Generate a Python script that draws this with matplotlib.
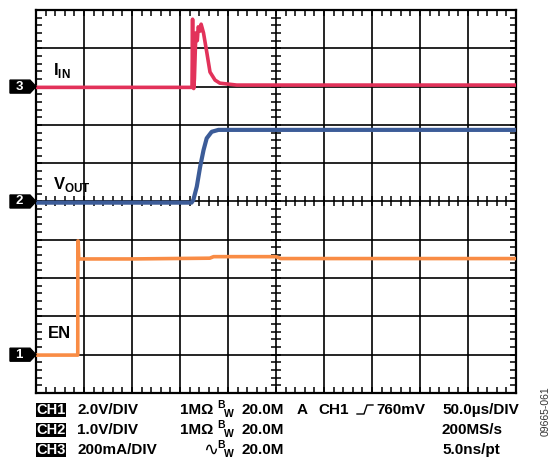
import numpy as np
import matplotlib
matplotlib.use("Agg")
import matplotlib.pyplot as plt
from matplotlib.patches import Polygon
from matplotlib.lines import Line2D

plt.rcParams['font.family'] = ['Liberation Sans', 'DejaVu Sans']
plt.rcParams['mathtext.fontset'] = 'custom'
plt.rcParams['mathtext.rm'] = 'Liberation Sans:bold'
plt.rcParams['mathtext.bf'] = 'Liberation Sans:bold'

W, H = 553, 461

# --- trace data (divisions: x 0..10 time, y 0..10 screen) ---
iin_t = [0, 3.25, 3.262, 3.268, 3.285, 3.30, 3.33, 3.36, 3.38, 3.42, 3.44,
         3.49, 3.56, 3.625, 3.73, 3.83, 4.18, 10]
iin_v = [7.98, 7.98, 9.76, 8.5, 7.95, 8.2, 9.40, 9.2, 9.56, 9.45, 9.63,
         9.40, 8.88, 8.38, 8.17, 8.09, 8.04, 8.04]

vout_t = [0, 3.24, 3.278, 3.35, 3.42, 3.49, 3.556, 3.66, 3.80, 10]
vout_v = [4.97, 4.97, 5.04, 5.39, 5.91, 6.34, 6.65, 6.82, 6.87, 6.87]

en_t = [0, 0.87, 0.872, 0.878, 0.89, 1.96, 3.62, 3.7, 5.0, 5.1, 10]
en_v = [0.99, 0.99, 3.97, 3.97, 3.50, 3.50, 3.52, 3.56, 3.56, 3.51, 3.51]

# ground reference markers (channel, level in divisions)
markers = [("3", 8.0), ("2", 5.0), ("1", 1.0)]

red = '#E2325A'
blue = '#3C5C98'
orange = '#F98C45'

fig = plt.figure(figsize=(W / 100, H / 100), dpi=100)
x0, x1, y0, y1 = 36, 516, 10, 393
ax = fig.add_axes([x0 / W, 1 - y1 / H, (x1 - x0) / W, (y1 - y0) / H])
ax.set_xlim(0, 10)
ax.set_ylim(0, 10)

# grid
for k in range(1, 10):
    ax.axvline(k, color='black', lw=1.2, zorder=1)
    ax.axhline(k, color='black', lw=1.2, zorder=1)
for s in ax.spines.values():
    s.set_linewidth(1.6)

ax.set_xticks(np.arange(0, 10.01, 0.2))
ax.set_yticks(np.arange(0, 10.01, 0.2))
ax.tick_params(which='both', direction='in', length=4, width=1.1,
               top=True, right=True, labelleft=False, labelbottom=False)

# ticks on center lines
minor = np.arange(0.2, 10, 0.2)
ax.plot(minor, np.full_like(minor, 5.0), ls='none', marker='|',
        ms=6.5, mew=1.1, color='black', zorder=1)
ax.plot(np.full_like(minor, 5.0), minor, ls='none', marker='_',
        ms=6.5, mew=1.1, color='black', zorder=1)

# traces
ax.plot(iin_t, iin_v, color=red, lw=2.6, zorder=3, solid_joinstyle='round')
ax.plot(vout_t, vout_v, color=blue, lw=3.0, zorder=3, solid_joinstyle='round')
ax.plot(en_t, en_v, color=orange, lw=2.6, zorder=3, solid_joinstyle='round')

# labels
ax.text(0.36, 8.16, r'$\mathbf{I}_{\mathbf{IN}}$', fontsize=12, color='black',
        ha='left', va='bottom')
ax.text(0.36, 5.2, r'$\mathbf{V}_{\mathbf{OUT}}$', fontsize=12, color='black',
        ha='left', va='bottom')
ax.text(0.25, 1.36, 'EN', fontsize=12, fontweight='bold', ha='left', va='bottom')

# channel ground markers
px, py = 1 / 48, 1 / 38.3
for lab, lvl in markers:
    pts = [(-26 * px, lvl - 6.5 * py), (-6 * px, lvl - 6.5 * py), (0, lvl),
           (-6 * px, lvl + 6.5 * py), (-26 * px, lvl + 6.5 * py)]
    ax.add_patch(Polygon(pts, closed=True, color='black', clip_on=False, zorder=5))
    ax.text(-17 * px, lvl, lab, color='white', fontsize=9.5, fontweight='bold',
            ha='center', va='center', clip_on=False, zorder=6)


def ftext(x, y, s, **kw):
    kw.setdefault('fontsize', 11)
    kw.setdefault('fontweight', 'bold')
    kw.setdefault('va', 'baseline')
    kw.setdefault('ha', 'left')
    return fig.text(x / W, 1 - y / H, s, **kw)


rows = [414, 434, 454]
scales = ["2.0V/DIV", "1.0V/DIV", "200mA/DIV"]
for i, (r, sc) in enumerate(zip(rows, scales)):
    ftext(36, r, "CH%d" % (i + 1), color='white', fontsize=10.5,
          bbox=dict(boxstyle='square,pad=0.02', facecolor='black', edgecolor='none'))
    ftext(77, r, sc)

# coupling / bandwidth column
for r, prefix in zip(rows, ["1M\u03a9", "1M\u03a9", ""]):
    if prefix:
        ftext(180, r, prefix)
    else:
        ftext(203, r + 1, "\u223f", fontsize=13, fontweight='normal')
    ftext(217, r - 6, "B", fontsize=7.5)
    ftext(224, r + 3, "W", fontsize=7.5)
    ftext(241, r, "20.0M")

ftext(297, rows[0], "A")
ftext(318, rows[0], "CH1")
trig = Line2D([357 / W, 364 / W, 367 / W, 373 / W],
              [1 - 414 / H, 1 - 414 / H, 1 - 405 / H, 1 - 405 / H],
              transform=fig.transFigure, color='black', lw=1.0)
fig.add_artist(trig)
ftext(376, rows[0], "760mV")

ftext(442, rows[0], "50.0\u00b5s/DIV")
ftext(442, rows[1], "200MS/s")
ftext(442, rows[2], "5.0ns/pt")

ftext(546, 411, "09665-061", fontsize=7.5, fontweight='normal', color='#333333',
      rotation=90, ha='center', va='center')

fig.savefig("out.png", dpi=100)
